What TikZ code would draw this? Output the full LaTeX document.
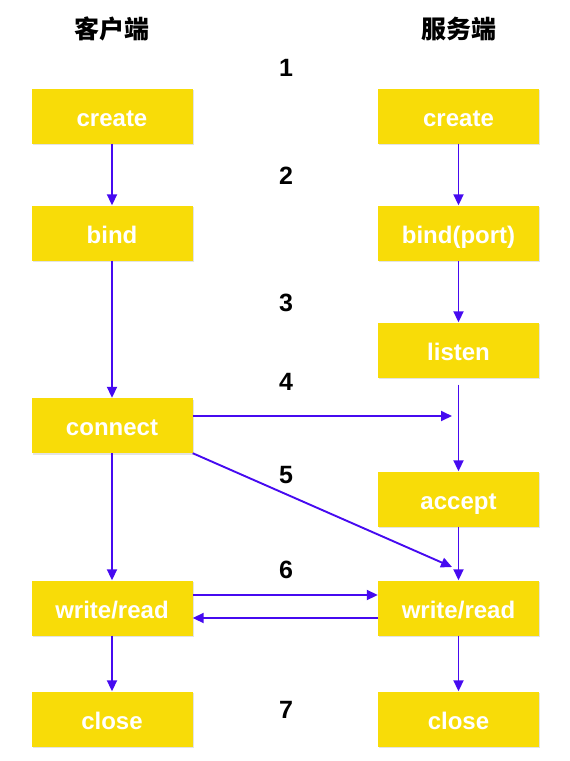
\documentclass[tikz,border=0pt]{standalone}
\usepackage{fontspec}
\setmainfont{Liberation Sans}
\newfontfamily\cjk{Noto Sans CJK SC}
\usetikzlibrary{arrows.meta,shadows}
\definecolor{boxy}{RGB}{248,220,8}
\definecolor{arr}{RGB}{70,10,240}
\begin{document}
\begin{tikzpicture}[x=1pt,y=-1pt,
 box/.style={fill=boxy, minimum width=161pt, minimum height=55pt, inner sep=0pt, text=white,
   text height=20pt, text depth=0pt,
   font=\fontsize{24}{24}\selectfont\bfseries,
   drop shadow={shadow xshift=1pt,shadow yshift=-1.5pt,opacity=0.22}},
 num/.style={font=\fontsize{25}{25}\selectfont\bfseries},
 ttl/.style={font=\cjk\fontsize{25}{25}\selectfont\bfseries},
 con/.style={draw=arr, line width=1.9pt, -{Triangle[length=11pt,width=10pt]}}]
\useasboundingbox (0,0) rectangle (570,761);
% titles
\node[ttl] (tc) at (112,29) {客户端};
\node[ttl] (ts) at (459,29) {服务端};
% numbers
\node[num] (n1) at (286,68) {1};
\node[num] (n2) at (286,176) {2};
\node[num] (n3) at (286,303) {3};
\node[num] (n4) at (286,382) {4};
\node[num] (n5) at (286,475) {5};
\node[num] (n6) at (286,570) {6};
\node[num] (n7) at (286,710) {7};
% client
\node[box] (lc) at (112,116) {create};
\node[box] (lb) at (112,233) {bind};
\node[box] (lcn) at (112,425.5) {connect};
\node[box] (lw) at (112,608) {write/read};
\node[box] (lx) at (112,719) {close};
% server
\node[box] (rc) at (458.5,116) {create};
\node[box] (rb) at (458.5,233) {bind(port)};
\node[box] (rl) at (458.5,350) {listen};
\node[box] (ra) at (458.5,499) {accept};
\node[box] (rw) at (458.5,608) {write/read};
\node[box] (rx) at (458.5,719) {close};
% client arrows
\draw[con] (lc.south) -- (lb.north);
\draw[con] (lb.south) -- (lcn.north);
\draw[con] (lcn.south) -- (lw.north);
\draw[con] (lw.south) -- (lx.north);
% server arrows
\draw[con] (rc.south) -- (rb.north);
\draw[con] (rb.south) -- (rl.north);
\draw[con, shorten <=7pt] (rl.south) -- (ra.north);
\draw[con] (ra.south) -- (rw.north);
\draw[con] (rw.south) -- (rx.north);
% cross arrows
\coordinate (h4) at (452,416);
\draw[con] (lcn.east |- h4) -- (h4);
\coordinate (d5) at (452,567);
\draw[con] (lcn.south east) -- (d5);
\draw[con] ([yshift=13pt]lw.east) -- ([yshift=13pt]rw.west);
\draw[con] ([yshift=-10pt]rw.west) -- ([yshift=-10pt]lw.east);
\end{tikzpicture}
\end{document}
